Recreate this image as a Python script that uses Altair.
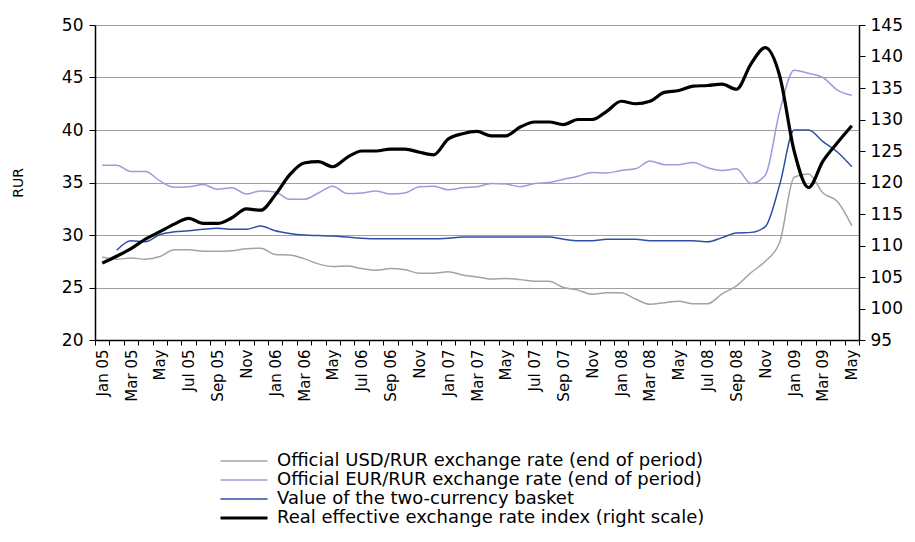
import altair as alt
import pandas as pd

months = [
    "Jan 05", "Feb 05", "Mar 05", "Apr 05", "May 05", "Jun 05", "Jul 05", "Aug 05", "Sep 05", "Oct 05", "Nov 05", "Dec 05",
    "Jan 06", "Feb 06", "Mar 06", "Apr 06", "May 06", "Jun 06", "Jul 06", "Aug 06", "Sep 06", "Oct 06", "Nov 06", "Dec 06",
    "Jan 07", "Feb 07", "Mar 07", "Apr 07", "May 07", "Jun 07", "Jul 07", "Aug 07", "Sep 07", "Oct 07", "Nov 07", "Dec 07",
    "Jan 08", "Feb 08", "Mar 08", "Apr 08", "May 08", "Jun 08", "Jul 08", "Aug 08", "Sep 08", "Oct 08", "Nov 08", "Dec 08",
    "Jan 09", "Feb 09", "Mar 09", "Apr 09", "May 09",
]

tick_labels = [
    "Jan 05", "", "Mar 05", "", "May", "", "Jul 05", "", "Sep 05", "", "Nov", "",
    "Jan 06", "", "Mar 06", "", "May", "", "Jul 06", "", "Sep 06", "", "Nov", "",
    "Jan 07", "", "Mar 07", "", "May", "", "Jul 07", "", "Sep 07", "", "Nov", "",
    "Jan 08", "", "Mar 08", "", "May", "", "Jul 08", "", "Sep 08", "", "Nov", "",
    "Jan 09", "", "Mar 09", "", "May",
]

usd = [
    27.9, 27.7, 27.8, 27.7, 27.95, 28.6, 28.6, 28.45, 28.45, 28.5, 28.7, 28.75,
    28.15, 28.1, 27.75, 27.25, 27.0, 27.05, 26.8, 26.65, 26.8, 26.7, 26.35, 26.35,
    26.5, 26.2, 26.0, 25.8, 25.85, 25.75, 25.6, 25.6, 25.0, 24.75, 24.35, 24.5,
    24.5, 23.9, 23.4, 23.55, 23.7, 23.45, 23.45, 24.4, 25.15, 26.4, 27.5, 29.3,
    35.5, 35.8, 34.0, 33.2, 30.9,
]

eur = [
    36.65, 36.65, 36.05, 36.05, 35.15, 34.55, 34.6, 34.8, 34.35, 34.5, 33.9, 34.2,
    34.1, 33.4, 33.4, 34.0, 34.65, 33.95, 34.0, 34.2, 33.9, 34.0, 34.6, 34.65,
    34.3, 34.5, 34.6, 34.9, 34.85, 34.6, 34.9, 35.0, 35.3, 35.6, 35.95, 35.9,
    36.15, 36.3, 37.05, 36.7, 36.7, 36.9, 36.4, 36.15, 36.3, 34.9, 35.7, 41.8,
    45.7, 45.4, 45.0, 43.8, 43.3,
]

basket = [
    None, 28.55, 29.45, 29.35, 30.05, 30.3, 30.4, 30.55, 30.65, 30.55, 30.55, 30.85,
    30.4, 30.15, 30.0, 29.95, 29.9, 29.8, 29.7, 29.65, 29.65, 29.65, 29.65, 29.65,
    29.7, 29.8, 29.8, 29.8, 29.8, 29.8, 29.8, 29.8, 29.6, 29.45, 29.45, 29.6,
    29.6, 29.6, 29.45, 29.45, 29.45, 29.45, 29.35, 29.75, 30.2, 30.25, 30.8, 34.8,
    40.0, 40.0, 38.9, 37.9, 36.5,
]

reer = [
    107.2, 108.3, 109.5, 111.0, 112.2, 113.4, 114.3, 113.5, 113.5, 114.4, 115.8, 115.6,
    118.0, 121.2, 123.1, 123.3, 122.5, 124.0, 125.0, 125.0, 125.3, 125.3, 124.8, 124.4,
    126.9, 127.75, 128.1, 127.4, 127.4, 128.8, 129.6, 129.6, 129.2, 130.0, 130.0, 131.3,
    132.9, 132.5, 132.9, 134.3, 134.6, 135.3, 135.4, 135.6, 134.8, 138.8, 141.4, 136.9,
    125.0, 119.2, 123.4, 126.3, 129.0,
]

series_names = [
    "Official USD/RUR exchange rate (end of period)",
    "Official EUR/RUR exchange rate (end of period)",
    "Value of the two-currency basket",
    "Real effective exchange rate index (right scale)",
]
series_colors = ["#A3A3A3", "#9C9CDC", "#2F4FA6", "#000000"]

left_ticks = [20, 25, 30, 35, 40, 45, 50]
right_ticks = [95, 100, 105, 110, 115, 120, 125, 130, 135, 140, 145]

rows = []
for name, vals in zip(series_names[:3], [usd, eur, basket]):
    for m, v in zip(months, vals):
        if v is not None:
            rows.append({"month": m, "series": name, "value": v})
rur_df = pd.DataFrame(rows)
reer_df = pd.DataFrame({"month": months, "series": series_names[3], "value": reer})

FONT = "DejaVu Sans"

months_js = "[" + ",".join("'" + m + "'" for m in months) + "]"
labels_js = "[" + ",".join("'" + t + "'" for t in tick_labels) + "]"
label_expr = labels_js + "[indexof(" + months_js + ", datum.value)]"

legend = alt.Legend(
    title=None,
    orient="none",
    legendX=140,
    legendY=427,
    direction="vertical",
    symbolType="M-4,0H4",
    symbolSize=138,
    symbolStrokeWidth=alt.ExprRef(expr="datum.value == '" + series_names[3] + "' ? 3.2 : 1.5"),
    labelFontSize=18,
    labelFont=FONT,
    labelColor="#000000",
    labelLimit=800,
    labelOffset=24,
    rowPadding=1,
    padding=0,
)

x_enc = alt.X(
    "month:O",
    sort=months,
    bandPosition=0.5,
    scale=alt.Scale(type="band", domain=months, paddingInner=0, paddingOuter=0),
    axis=alt.Axis(
        title=None,
        labelExpr=label_expr,
        labelAngle=-90,
        labelFontSize=15,
        labelFont=FONT,
        labelColor="#000000",
        labelPadding=4,
        labelOverlap=False,
        tickBand="extent",
        tickSize=5,
        tickColor="#000000",
        domainColor="#000000",
        domainWidth=1.5,
        grid=False,
    ),
)

color_enc = alt.Color(
    "series:N",
    scale=alt.Scale(domain=series_names, range=series_colors),
    legend=legend,
)

rur_lines = alt.Chart(rur_df).mark_line(interpolate="monotone", strokeWidth=1.5).encode(
    x=x_enc,
    y=alt.Y(
        "value:Q",
        scale=alt.Scale(domain=[20, 50], nice=False, zero=False),
        axis=alt.Axis(
            title="RUR",
            titleFont=FONT,
            titleFontSize=14,
            titleFontWeight="normal",
            titleColor="#000000",
            titlePadding=36,
            values=left_ticks,
            labelFontSize=17,
            labelFont=FONT,
            labelColor="#000000",
            labelPadding=6,
            tickSize=6,
            tickColor="#000000",
            domainColor="#000000",
            domainWidth=1.5,
            grid=True,
            gridColor="#A0A0A0",
            gridWidth=1,
        ),
    ),
    color=color_enc,
)

reer_line = alt.Chart(reer_df).mark_line(interpolate="monotone", strokeWidth=3.2).encode(
    x=x_enc,
    y=alt.Y(
        "value:Q",
        scale=alt.Scale(domain=[95, 145], nice=False, zero=False),
        axis=alt.Axis(
            title=None,
            orient="right",
            values=right_ticks,
            labelFontSize=17,
            labelFont=FONT,
            labelColor="#000000",
            labelPadding=5,
            tickSize=6,
            tickColor="#000000",
            domainColor="#000000",
            domainWidth=1.5,
            grid=False,
        ),
    ),
    color=color_enc,
)

chart = (
    alt.layer(rur_lines, reer_line)
    .resolve_scale(y="independent")
    .properties(
        width=764,
        height=315,
        padding={"left": 3, "top": 8, "right": 2, "bottom": 2},
        background="white",
    )
    .configure_view(stroke=None)
)

chart.save("out.html", embed_options={"renderer": "svg", "actions": False})
